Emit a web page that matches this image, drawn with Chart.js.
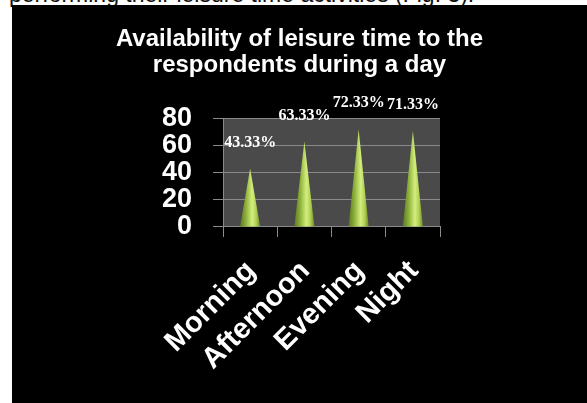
<!DOCTYPE html>
<html>
<head>
<meta charset="utf-8">
<script src="https://cdn.jsdelivr.net/npm/chart.js@4/dist/chart.umd.min.js"></script>
<style>
  html, body { margin: 0; padding: 0; background: #fff; width: 587px; height: 403px; overflow: hidden; position: relative; }
  #lead { position: absolute; left: 9px; top: -17px; font: 23px/22px "Liberation Sans", Arial, sans-serif; color: #111; white-space: nowrap; }
  #panel { position: absolute; left: 12px; top: 5px; width: 575px; height: 398px; background: #000; }
  canvas { display: block; }
</style>
</head>
<body>
<div id="lead">performing their leisure time activities (Fig. 3).</div>
<div id="panel"><canvas id="chart" width="575" height="398"></canvas></div>
<script>
// Share of respondents with leisure time in each part of the day
const periods = ['Morning', 'Afternoon', 'Evening', 'Night'];
const shares = [43.33, 63.33, 72.33, 71.33];
const yTicks = [0, 20, 40, 60, 80];
const titleLines = ['Availability of leisure time to the', 'respondents during a day'];

const AXIS_GREY = '#8a8a8a';
const SANS = '"Liberation Sans", Arial, sans-serif';

// Dark grey plot background behind the grid
const plotBackground = {
  id: 'plotBackground',
  beforeDraw(chart) {
    const { ctx, chartArea: a } = chart;
    ctx.save();
    ctx.fillStyle = '#4a4a4a';
    ctx.fillRect(a.left, a.top, a.right - a.left, a.bottom - a.top);
    ctx.restore();
  }
};

// Each bar is drawn as a shaded cone standing on the baseline
const coneBars = {
  id: 'coneBars',
  afterDatasetsDraw(chart) {
    const { ctx } = chart;
    const meta = chart.getDatasetMeta(0);
    ctx.save();
    meta.data.forEach((bar) => {
      const half = bar.width / 2;
      const g = ctx.createLinearGradient(bar.x - half, 0, bar.x + half, 0);
      g.addColorStop(0, '#5c7a1e');
      g.addColorStop(0.3, '#8fb23c');
      g.addColorStop(0.6, '#d4ee7e');
      g.addColorStop(0.8, '#b0d055');
      g.addColorStop(1, '#6b8b24');
      ctx.fillStyle = g;
      ctx.beginPath();
      ctx.moveTo(bar.x - half, bar.base);
      ctx.lineTo(bar.x, bar.y);
      ctx.lineTo(bar.x + half, bar.base);
      ctx.closePath();
      ctx.fill();
    });
    ctx.restore();
  }
};

// Percentage labels above each cone
const valueLabels = {
  id: 'valueLabels',
  afterDatasetsDraw(chart) {
    const { ctx } = chart;
    const meta = chart.getDatasetMeta(0);
    ctx.save();
    ctx.fillStyle = '#ffffff';
    ctx.font = 'bold 16px "Liberation Serif", "Times New Roman", serif';
    ctx.textAlign = 'center';
    ctx.textBaseline = 'middle';
    meta.data.forEach((bar, i) => {
      ctx.fillText(shares[i].toFixed(2) + '%', bar.x, bar.y - 26);
    });
    ctx.restore();
  }
};

new Chart(document.getElementById('chart'), {
  type: 'bar',
  data: {
    labels: periods,
    datasets: [{
      data: shares,
      backgroundColor: 'rgba(0,0,0,0)',
      borderWidth: 0,
      barPercentage: 0.37,
      categoryPercentage: 1
    }]
  },
  options: {
    responsive: false,
    animation: false,
    layout: { padding: 0 },
    plugins: {
      legend: { display: false },
      tooltip: { enabled: false },
      title: {
        display: true,
        text: titleLines,
        color: '#ffffff',
        font: { family: SANS, size: 24, weight: 'bold', lineHeight: 1.07 },
        padding: { top: 22, bottom: 40.6 }
      }
    },
    scales: {
      x: {
        grid: { display: true, drawOnChartArea: false, color: AXIS_GREY, tickLength: 10, offset: true },
        border: { display: true, color: AXIS_GREY, width: 1 },
        ticks: {
          color: '#ffffff',
          font: { family: SANS, size: 29, weight: 'bold' },
          minRotation: 45,
          maxRotation: 45,
          padding: 17,
          labelOffset: 1,
          autoSkip: false
        },
        afterFit(scale) { scale.height = 176; }
      },
      y: {
        min: 0,
        max: 80,
        afterBuildTicks(scale) { scale.ticks = yTicks.map(v => ({ value: v })); },
        grid: { color: AXIS_GREY, tickLength: 10 },
        border: { display: true, color: AXIS_GREY, width: 1 },
        ticks: {
          color: '#ffffff',
          font: { family: SANS, size: 27, weight: 'bold' },
          padding: 21,
          autoSkip: false
        },
        afterFit(scale) { scale.width = 211; }
      },
      // empty right-hand margin so the title stays centred on the panel
      yRight: {
        position: 'right',
        min: 0,
        max: 80,
        grid: { display: false },
        border: { display: false },
        ticks: { display: false },
        afterFit(scale) { scale.width = 147; }
      }
    }
  },
  plugins: [plotBackground, coneBars, valueLabels]
});
</script>
</body>
</html>
